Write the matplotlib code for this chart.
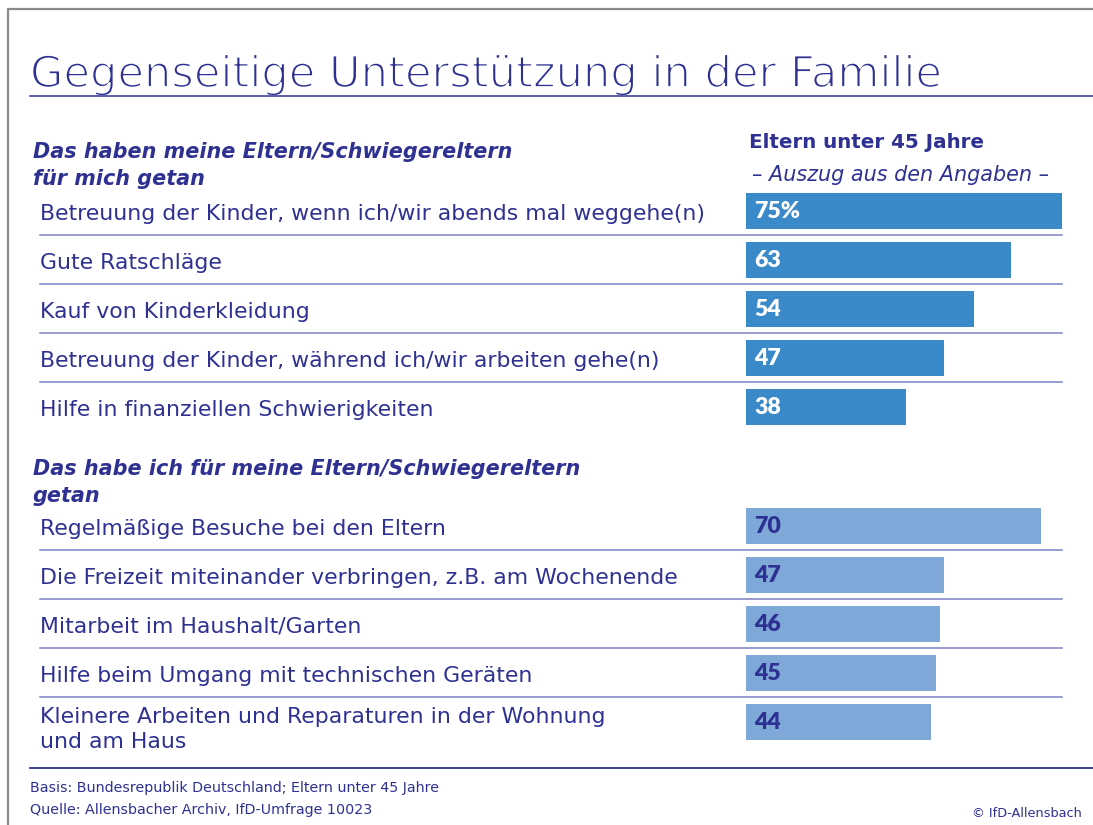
import matplotlib
matplotlib.use("Agg")
import matplotlib.pyplot as plt
import matplotlib.patheffects as pe

# ---------------- data ----------------
title = "Gegenseitige Unterstützung in der Familie"
column_title = "Eltern unter 45 Jahre"
column_sub = "– Auszug aus den Angaben –"

group1_header = ["Das haben meine Eltern/Schwiegereltern", "für mich getan"]
group1_labels = [
    "Betreuung der Kinder, wenn ich/wir abends mal weggehe(n)",
    "Gute Ratschläge",
    "Kauf von Kinderkleidung",
    "Betreuung der Kinder, während ich/wir arbeiten gehe(n)",
    "Hilfe in finanziellen Schwierigkeiten",
]
group1_values = [75, 63, 54, 47, 38]

group2_header = ["Das habe ich für meine Eltern/Schwiegereltern", "getan"]
group2_labels = [
    "Regelmäßige Besuche bei den Eltern",
    "Die Freizeit miteinander verbringen, z.B. am Wochenende",
    "Mitarbeit im Haushalt/Garten",
    "Hilfe beim Umgang mit technischen Geräten",
    "Kleinere Arbeiten und Reparaturen in der Wohnung\nund am Haus",
]
group2_values = [70, 47, 46, 45, 44]

footer_basis = "Basis: Bundesrepublik Deutschland; Eltern unter 45 Jahre"
footer_source = "Quelle: Allensbacher Archiv, IfD-Umfrage 10023"
copyright_text = "© IfD-Allensbach"

# ---------------- style ----------------
W, H = 1093, 825
DARK = "#2e3192"
BAR1 = "#3a89c9"
BAR2 = "#7ea8d8"
SEP = "#7c80c3"
FONT = "DejaVu Sans"
VFONT = "Lato"

fig = plt.figure(figsize=(W / 100, H / 100), dpi=100)
renderer = fig.canvas.get_renderer()
ax = fig.add_axes([0, 0, 1, 1])
ax.set_xlim(0, W)
ax.set_ylim(H, 0)
ax.axis("off")


def fit_size(text, target_px, family=FONT, **kw):
    """font size (pt) so that `text` is target_px wide"""
    t = ax.text(0, 0, text, fontsize=20, family=family, **kw)
    w = t.get_window_extent(renderer).width
    t.remove()
    return 20 * target_px / w


# frame (gray top & left border)
ax.plot([8, 8, W], [H, 9, 9], color="#8a8a8a", lw=1.6, solid_capstyle="butt")

# title (normal weight, slightly thinned with a white outline)
ts = fit_size(title, 912)
ax.text(30, 87, title, fontsize=ts, color=DARK, family=FONT,
        va="baseline", ha="left", zorder=3,
        path_effects=[pe.Normal(), pe.Stroke(linewidth=1.3, foreground="white")])
ax.plot([30, W], [96, 96], color=DARK, lw=1.1, zorder=5)

# column header
ax.text(749, 148, column_title, fontsize=fit_size(column_title, 235, fontweight="bold"),
        color=DARK, family=FONT, fontweight="bold", va="baseline")
ax.text(752, 181, column_sub, fontsize=fit_size(column_sub, 298, style="italic"),
        color=DARK, family=FONT, style="italic", va="baseline")

# bar axes: value 0..75 maps to x pixels 746..1062
bx = fig.add_axes([746 / W, 0, 316 / W, 1])
bx.set_xlim(0, 75)
bx.set_ylim(H, 0)
bx.axis("off")

row_step = 49
g1_y0 = 210.8
g2_y0 = 526.0
g1_pos = [g1_y0 + i * row_step for i in range(len(group1_values))]
g2_pos = [g2_y0 + i * row_step for i in range(len(group2_values))]

bx.barh(g1_pos, group1_values, height=36, color=BAR1, edgecolor="none")
bx.barh(g2_pos, group2_values, height=36, color=BAR2, edgecolor="none")

# section headers
hs = fit_size(group1_header[0], 478, fontweight="bold", style="italic")
for (l1, l2), yb in ((group1_header, 158), (group2_header, 475)):
    ax.text(33, yb, l1, fontsize=hs, color=DARK, family=FONT,
            fontweight="bold", style="italic", va="baseline")
    ax.text(33, yb + 27, l2, fontsize=hs, color=DARK, family=FONT,
            fontweight="bold", style="italic", va="baseline")

ls = fit_size(group1_labels[0], 665)
vs = fit_size("75%", 46, family=VFONT, fontweight="heavy")


def draw_group(labels, values, pos, val_color, sep_count, pct_first):
    for i, (lab, v, y) in enumerate(zip(labels, values, pos)):
        lines = lab.split("\n")
        if len(lines) == 1:
            ax.text(40, y + 9, lab, fontsize=ls, color=DARK, family=FONT,
                    va="baseline")
        else:
            ax.text(40, y + 1, lines[0], fontsize=ls, color=DARK, family=FONT,
                    va="baseline")
            ax.text(40, y + 26, lines[1], fontsize=ls, color=DARK, family=FONT,
                    va="baseline")
        txt = f"{v}%" if (pct_first and i == 0) else f"{v}"
        bx.text(1.9, y + 7, txt, fontsize=vs, color=val_color, family=VFONT,
                fontweight="heavy", va="baseline", ha="left")
        if i < sep_count:
            ax.plot([40, 1062], [y + 24, y + 24], color=SEP, lw=1.1)


draw_group(group1_labels, group1_values, g1_pos, "white", 4, True)
draw_group(group2_labels, group2_values, g2_pos, DARK, 4, False)

# footer
fs = fit_size(footer_basis, 408)
ax.plot([30, W], [767.7, 767.7], color=DARK, lw=1.3)
ax.text(30, 792, footer_basis, fontsize=fs, color=DARK, family=FONT,
        va="baseline")
ax.text(30, 814, footer_source, fontsize=fs, color=DARK, family=FONT,
        va="baseline")
ax.text(1082, 817, copyright_text, fontsize=fit_size(copyright_text, 110),
        color=DARK, family=FONT, va="baseline", ha="right")

fig.savefig("out.png", dpi=100)
